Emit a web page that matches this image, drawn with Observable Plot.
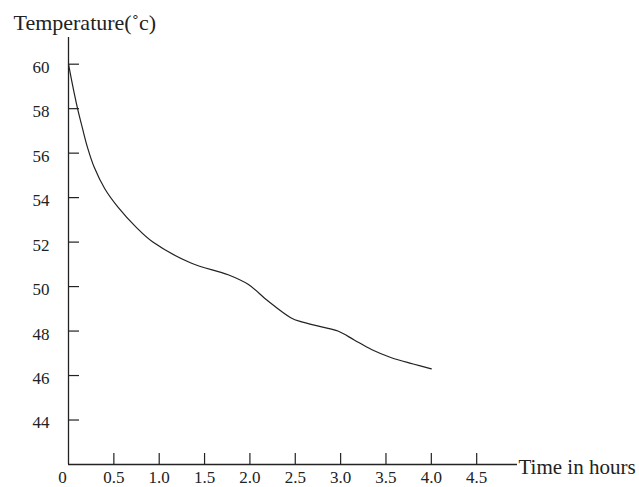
<!DOCTYPE html>
<html><head><meta charset="utf-8">
<script src="https://cdn.jsdelivr.net/npm/d3@7"></script>
<script src="https://cdn.jsdelivr.net/npm/@observablehq/plot@0.6"></script>
<style>body{margin:0;background:#fff}</style>
</head><body><div id="chart"></div>
<script>
const hours = [0, 0.06, 0.1, 0.155, 0.21, 0.285, 0.4, 0.55, 0.75, 0.93, 1.35, 1.76, 1.98, 2.2, 2.45, 2.57, 2.79, 2.97, 3.15, 3.34, 3.56, 3.8, 4.0];
const temps = [60, 58.75, 58.0, 57.1, 56.25, 55.35, 54.4, 53.55, 52.65, 52.0, 51.06, 50.53, 50.1, 49.35, 48.6, 48.41, 48.19, 48.0, 47.6, 47.17, 46.8, 46.52, 46.3];
const xTicks = [0.5, 1.0, 1.5, 2.0, 2.5, 3.0, 3.5, 4.0, 4.5];
const xTickLabels = ["0.5", "1.0", "1.5", "2.0", "2.5", "3.0", "3.5", "4.0", "4.5"];
const yTicks = [44, 46, 48, 50, 52, 54, 56, 58, 60];
const originLabel = ["0"];
const yTitle = "Temperature(˚c)";
const xTitle = "Time in hours";

const data = hours.map((h, i) => ({h, t: temps[i]}));
const font = "'Liberation Serif', 'Times New Roman', serif";

const plot = Plot.plot({
  width: 639, height: 487,
  marginLeft: 68, marginRight: 122, marginTop: 37, marginBottom: 23,
  style: {fontFamily: font, fontSize: "17px", background: "#fff", color: "#222"},
  x: {domain: [0, 4.95]},
  y: {domain: [42, 61.2]},
  marks: [
    Plot.axisX(xTicks, {tickSize: -11, text: null, strokeWidth: 1.2, label: null}),
    Plot.axisX(xTicks, {tickSize: 0, tickPadding: 6, tickFormat: d => xTickLabels[xTicks.indexOf(d)], label: null, fontSize: 17}),
    Plot.axisY(yTicks, {tickSize: -11, text: null, strokeWidth: 1.2, label: null}),
    Plot.axisY(yTicks, {tickSize: 0, tickPadding: 19, dy: 3, label: null, fontSize: 17}),
    Plot.ruleX([0], {strokeWidth: 1.3}),
    Plot.ruleY([42], {strokeWidth: 1.3}),
    Plot.text(originLabel, {x: 0, y: 42, dx: -6, dy: 6, lineAnchor: "top", fontSize: 17}),
    Plot.line(data, {x: "h", y: "t", curve: "catmull-rom", strokeWidth: 1.2, stroke: "#222"}),
    Plot.text([yTitle], {frameAnchor: "top-left", textAnchor: "start", lineAnchor: "middle", dx: -55, dy: -15, fontSize: 22}),
    Plot.text([xTitle], {frameAnchor: "bottom-right", textAnchor: "start", lineAnchor: "middle", dx: 1, dy: 3, fontSize: 21})
  ]
});
document.getElementById("chart").appendChild(plot);
</script>
</body></html>
